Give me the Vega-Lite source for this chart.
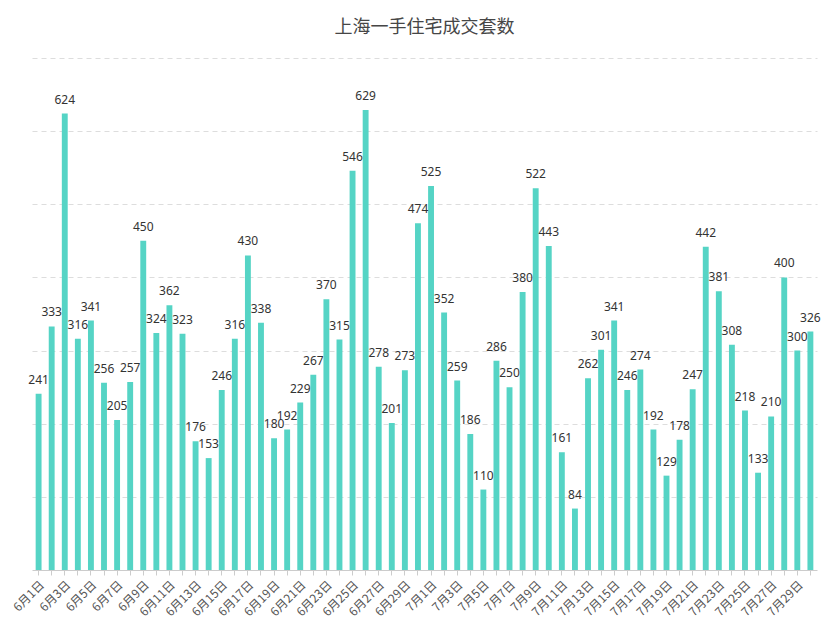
{
  "$schema": "https://vega.github.io/schema/vega-lite/v6.json",
  "autosize": {"type": "none"},
  "width": 785,
  "height": 512,
  "padding": {"left": 32, "top": 58, "right": 21, "bottom": 58},
  "background": "#ffffff",
  "title": {
    "text": "上海一手住宅成交套数",
    "fontSize": 18,
    "fontWeight": "normal",
    "font": "Noto Sans CJK SC",
    "color": "#464646",
    "anchor": "middle",
    "offset": 21
  },
  "data": {
    "values": [
      {"date": "6月1日", "n": 241}, {"date": "6月2日", "n": 333}, {"date": "6月3日", "n": 624},
      {"date": "6月4日", "n": 316}, {"date": "6月5日", "n": 341}, {"date": "6月6日", "n": 256},
      {"date": "6月7日", "n": 205}, {"date": "6月8日", "n": 257}, {"date": "6月9日", "n": 450},
      {"date": "6月10日", "n": 324}, {"date": "6月11日", "n": 362}, {"date": "6月12日", "n": 323},
      {"date": "6月13日", "n": 176}, {"date": "6月14日", "n": 153}, {"date": "6月15日", "n": 246},
      {"date": "6月16日", "n": 316}, {"date": "6月17日", "n": 430}, {"date": "6月18日", "n": 338},
      {"date": "6月19日", "n": 180}, {"date": "6月20日", "n": 192}, {"date": "6月21日", "n": 229},
      {"date": "6月22日", "n": 267}, {"date": "6月23日", "n": 370}, {"date": "6月24日", "n": 315},
      {"date": "6月25日", "n": 546}, {"date": "6月26日", "n": 629}, {"date": "6月27日", "n": 278},
      {"date": "6月28日", "n": 201}, {"date": "6月29日", "n": 273}, {"date": "6月30日", "n": 474},
      {"date": "7月1日", "n": 525}, {"date": "7月2日", "n": 352}, {"date": "7月3日", "n": 259},
      {"date": "7月4日", "n": 186}, {"date": "7月5日", "n": 110}, {"date": "7月6日", "n": 286},
      {"date": "7月7日", "n": 250}, {"date": "7月8日", "n": 380}, {"date": "7月9日", "n": 522},
      {"date": "7月10日", "n": 443}, {"date": "7月11日", "n": 161}, {"date": "7月12日", "n": 84},
      {"date": "7月13日", "n": 262}, {"date": "7月14日", "n": 301}, {"date": "7月15日", "n": 341},
      {"date": "7月16日", "n": 246}, {"date": "7月17日", "n": 274}, {"date": "7月18日", "n": 192},
      {"date": "7月19日", "n": 129}, {"date": "7月20日", "n": 178}, {"date": "7月21日", "n": 247},
      {"date": "7月22日", "n": 442}, {"date": "7月23日", "n": 381}, {"date": "7月24日", "n": 308},
      {"date": "7月25日", "n": 218}, {"date": "7月26日", "n": 133}, {"date": "7月27日", "n": 210},
      {"date": "7月28日", "n": 400}, {"date": "7月29日", "n": 300}, {"date": "7月30日", "n": 326}
    ]
  },
  "encoding": {
    "x": {
      "field": "date",
      "type": "ordinal",
      "sort": null,
      "title": null,
      "scale": {"paddingInner": 0.55, "paddingOuter": 0.28},
      "axis": {
        "labelAngle": -45,
        "labelFontSize": 12,
        "labelColor": "#555555",
        "labelFont": "Noto Sans CJK SC",
        "labelExpr": "toNumber(substring(datum.label, 2, length(datum.label) - 1)) % 2 === 1 ? datum.label : ''",
        "domainColor": "#cccccc",
        "tickColor": "#cccccc",
        "tickSize": 5,
        "labelPadding": 4
      }
    },
    "y": {
      "field": "n",
      "type": "quantitative",
      "title": null,
      "scale": {"domain": [0, 700], "nice": false},
      "axis": {
        "values": [100, 200, 300, 400, 500, 600, 700],
        "labels": false,
        "ticks": false,
        "domain": false,
        "grid": true,
        "gridColor": "#dddddd",
        "gridDash": [5, 4]
      }
    }
  },
  "layer": [
    {
      "mark": {"type": "bar", "color": "#55d4c5"}
    },
    {
      "mark": {
        "type": "text",
        "baseline": "bottom",
        "dy": -7,
        "fontSize": 12,
        "color": "#333333",
        "font": "Noto Sans"
      },
      "encoding": {"text": {"field": "n", "type": "quantitative"}}
    }
  ],
  "config": {
    "view": {"stroke": null}
  }
}
